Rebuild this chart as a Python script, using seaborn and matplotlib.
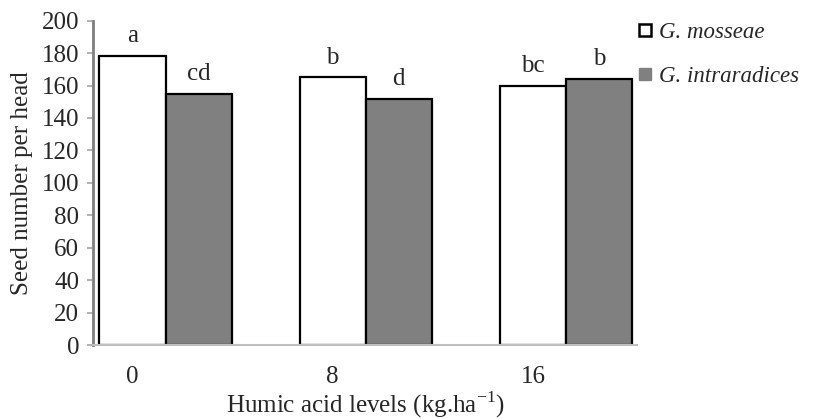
import matplotlib
matplotlib.use("Agg")
import matplotlib.pyplot as plt
import seaborn as sns
import pandas as pd
from matplotlib.lines import Line2D

levels = ["0", "8", "16"]
species = ["G. mosseae", "G. intraradices"]
mosseae = [178, 165, 160]
intraradices = [155, 152, 164]
letters_mosseae = ["a", "b", "bc"]
letters_intraradices = ["cd", "d", "b"]
yticks = [0, 20, 40, 60, 80, 100, 120, 140, 160, 180, 200]

df = pd.DataFrame({
    "level": levels * 2,
    "species": [species[0]] * 3 + [species[1]] * 3,
    "value": mosseae + intraradices,
})

sns.set_style("white")
plt.rcParams["font.family"] = ["Liberation Serif", "DejaVu Serif"]
plt.rcParams["mathtext.fontset"] = "custom"
plt.rcParams["mathtext.rm"] = "Liberation Serif"

FS = 18

fig = plt.figure(figsize=(8.15, 4.19), dpi=100)
ax = fig.add_axes([0.1141, 0.1766, 0.7816 - 0.1141, 0.9506 - 0.1766])

sns.barplot(data=df, x="level", y="value", hue="species", order=levels,
            hue_order=species, palette=["#ffffff", "#808080"],
            edgecolor="black", linewidth=1.6, width=0.66, ax=ax,
            errorbar=None, legend=False, saturation=1)

for i, (v, t) in enumerate(zip(mosseae, letters_mosseae)):
    ax.annotate(t, (i - 0.165, v), xytext=(0, 10), textcoords="offset points",
                ha="center", va="baseline", fontsize=FS)
for i, (v, t) in enumerate(zip(intraradices, letters_intraradices)):
    ax.annotate(t, (i + 0.165, v), xytext=(0, 10), textcoords="offset points",
                ha="center", va="baseline", fontsize=FS)

ax.set_ylim(0, 200)
ax.set_xlim(-0.3625, 2.355)
ax.set_yticks(yticks)
ax.set_yticklabels([str(t) for t in yticks], fontsize=FS)
ax.set_xticks([i - 0.165 for i in range(len(levels))])
ax.set_xticklabels(levels, fontsize=FS)
ax.tick_params(axis="x", length=0, pad=15)
ax.tick_params(axis="y", length=4, width=1.2, color="#a6a6a6", pad=6, direction="out", left=True)

for s in ["top", "right"]:
    ax.spines[s].set_visible(False)
ax.spines["left"].set_color("#7f7f7f")
ax.spines["left"].set_linewidth(2)
ax.spines["bottom"].set_color("#bfbfbf")
ax.spines["bottom"].set_linewidth(1.5)

ax.set_ylabel("Seed number per head", fontsize=FS, labelpad=6)
ax.set_xlabel(r"Humic acid levels (kg.ha$^{\mathregular{-1}}$)", fontsize=FS, labelpad=1)

handles = [
    Line2D([], [], marker="s", linestyle="none", markersize=9,
           markerfacecolor="white", markeredgecolor="black", markeredgewidth=1.8),
    Line2D([], [], marker="s", linestyle="none", markersize=9,
           markerfacecolor="#808080", markeredgecolor="#808080"),
]
fig.legend(handles, species, loc="upper left", bbox_to_anchor=(0.772, 0.97),
           frameon=False, prop={"style": "italic", "size": 16.5},
           handlelength=0.6, handletextpad=0.3, labelspacing=1.0, borderaxespad=0)

fig.savefig("out.png", dpi=100)
